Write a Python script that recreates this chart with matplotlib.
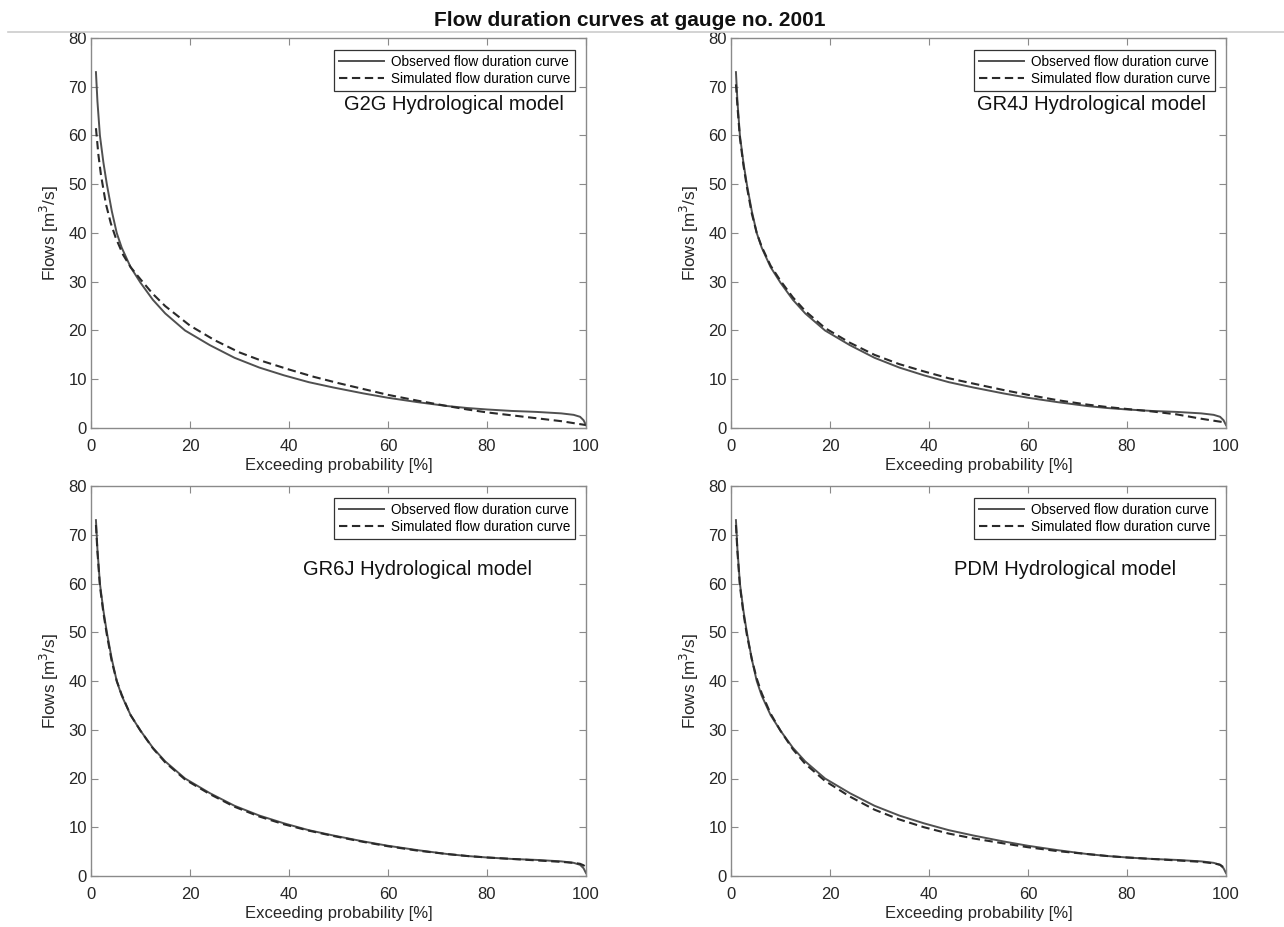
import matplotlib
matplotlib.use("Agg")
import matplotlib.pyplot as plt
from matplotlib.lines import Line2D

plt.rcParams['font.family'] = ['Liberation Sans', 'DejaVu Sans']

# ---------------- data ----------------
models = ["G2G", "GR4J", "GR6J", "PDM"]

obs_x = [1, 1.3, 1.8, 2.5, 3.2, 4.2, 5.2, 6.2, 8, 10, 12.5, 15, 19, 24, 29, 34,
         39, 44, 49, 55, 60, 66, 72, 76, 80, 85, 90, 95, 97.5, 98.8, 99.5, 100]
obs_y = [73, 67, 60, 54.5, 50, 44.5, 40, 37, 33, 29.8, 26.3, 23.5, 20, 17, 14.4, 12.4,
         10.8, 9.4, 8.3, 7.1, 6.2, 5.3, 4.5, 4.1, 3.8, 3.5, 3.3, 3.0, 2.7, 2.3, 1.6, 0.6]

g2g_x = [1, 1.5, 2, 3, 4, 5, 6.5, 8, 10, 12.5, 15, 20, 25, 30, 35, 40, 45, 50,
         55, 60, 66, 72, 76, 80, 85, 90, 95, 100]
g2g_y = [61.5, 56, 52, 46, 42, 39, 35.5, 33, 30.5, 27.5, 25, 21, 18, 15.5, 13.6, 12,
         10.5, 9.2, 8, 6.8, 5.6, 4.5, 3.8, 3.2, 2.6, 2.0, 1.4, 0.6]

gr4j_y = [70.5, 66, 59.5, 54, 49.5, 44, 40, 37.2, 33.3, 30.2, 26.8, 24, 20.5, 17.5, 15, 13.1,
          11.6, 10.2, 9.1, 7.8, 6.8, 5.7, 4.8, 4.3, 3.9, 3.4, 2.8, 1.9, 1.5, 1.3, 1.2, 1.1]
gr6j_y = [72, 66.5, 59.5, 54, 49.5, 44, 40, 37.2, 33, 29.8, 26.2, 23.3, 19.8, 16.8, 14.2, 12.2,
          10.6, 9.3, 8.2, 7.0, 6.1, 5.2, 4.5, 4.1, 3.8, 3.5, 3.2, 2.9, 2.7, 2.5, 2.2, 1.8]
pdm_y = [72, 66.5, 59.5, 54, 49.5, 44.5, 40.5, 37.5, 33.3, 29.8, 26, 23, 19.5, 16.3, 13.6, 11.6,
         10.0, 8.7, 7.7, 6.7, 5.9, 5.1, 4.5, 4.1, 3.8, 3.5, 3.2, 2.9, 2.6, 2.3, 1.8, 1.3]

sim_series = {
    "G2G": (g2g_x, g2g_y),
    "GR4J": (obs_x, gr4j_y),
    "GR6J": (obs_x, gr6j_y),
    "PDM": (obs_x, pdm_y),
}

x_ticks = [0, 20, 40, 60, 80, 100]
y_ticks = [0, 10, 20, 30, 40, 50, 60, 70, 80]

# ---------------- figure ----------------
W, H = 1284, 927
fig = plt.figure(figsize=(W / 100, H / 100), dpi=100)

def rect(l, t, r, b):
    return [l / W, 1 - b / H, (r - l) / W, (b - t) / H]

rects = {
    "G2G": rect(91, 38, 586, 428),
    "GR4J": rect(731, 38, 1226, 428),
    "GR6J": rect(91, 486, 586, 876),
    "PDM": rect(731, 486, 1226, 876),
}
text_pos = {
    "G2G": (0.955, 0.83),
    "GR4J": (0.96, 0.83),
    "GR6J": (0.89, 0.785),
    "PDM": (0.90, 0.785),
}

spine_col = "#8a8a8a"
txt_col = "#262626"
obs_col = "#505050"
sim_col = "#2a2a2a"
dash = (0, (4, 2.2))

for m in models:
    ax = fig.add_axes(rects[m])
    ax.plot(obs_x, obs_y, color=obs_col, lw=1.4, ls="-")
    sx, sy = sim_series[m]
    ax.plot(sx, sy, color=sim_col, lw=1.5, ls=dash)
    ax.set_xlim(0, 100)
    ax.set_ylim(0, 80)
    ax.set_xticks(x_ticks)
    ax.set_yticks(y_ticks)
    ax.tick_params(direction="in", top=True, right=True, length=5, width=0.8,
                   color=spine_col, labelcolor=txt_col, labelsize=12)
    ax.tick_params(axis="x", pad=8)
    ax.tick_params(axis="y", pad=3)
    for s in ax.spines.values():
        s.set_color(spine_col)
        s.set_linewidth(1.0)
    ax.set_xlabel("Exceeding probability [%]", fontsize=12, color=txt_col, labelpad=3)
    ax.set_ylabel("Flows [m$^3$/s]", fontsize=12.3, color=txt_col, labelpad=5)
    handles = [Line2D([], [], color=obs_col, lw=1.4, ls="-"),
               Line2D([], [], color=sim_col, lw=1.5, ls=dash)]
    leg = ax.legend(handles, ["Observed flow duration curve", "Simulated flow duration curve"],
                    loc="upper right", bbox_to_anchor=(0.978, 0.969), borderaxespad=0,
                    fontsize=9.8, fancybox=False, framealpha=1, handlelength=3.3,
                    borderpad=0.35, labelspacing=0.25, handletextpad=0.5)
    leg.get_frame().set_edgecolor("#333333")
    leg.get_frame().set_linewidth(0.9)
    tx, ty = text_pos[m]
    ax.text(tx, ty, f"{m} Hydrological model", transform=ax.transAxes,
            ha="right", va="center", fontsize=14.5, color="#111111")

fig.text(630 / W, 1 - 21 / H, "Flow duration curves at gauge no. 2001", ha="center", va="center",
         fontsize=15, fontweight="bold", color="#111111")
fig.add_artist(Line2D([8 / W, 1], [1 - 32 / H, 1 - 32 / H], color="#cccccc", lw=1.2,
                      transform=fig.transFigure))

fig.savefig("out.png", dpi=100, facecolor="white")
